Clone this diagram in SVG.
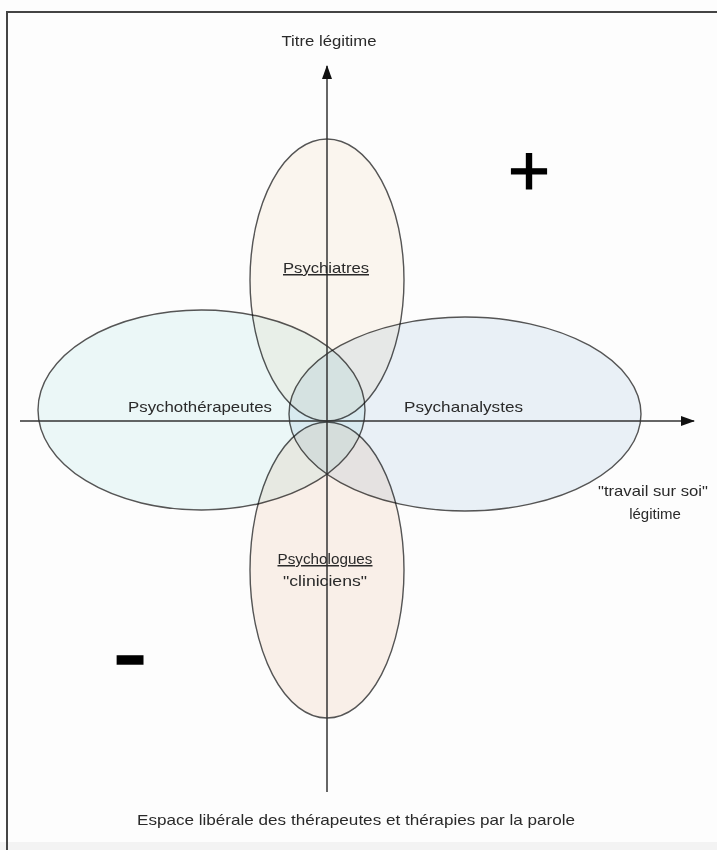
<svg xmlns="http://www.w3.org/2000/svg" width="717" height="850" viewBox="0 0 717 850">
<style>
.lbl{font-family:"Liberation Sans",Arial,Helvetica,sans-serif;font-size:15px;fill:#2a2a2a;text-anchor:middle}
.ell{stroke:#555;stroke-width:1.4;mix-blend-mode:multiply}
.ax{stroke:#333;stroke-width:1.5;fill:none}
.sign{font-family:"Liberation Sans",Arial,Helvetica,sans-serif;fill:#000;stroke:#000;text-anchor:middle}
</style>
<defs>
<marker id="arr" viewBox="0 0 14 10" refX="13" refY="5" markerWidth="14" markerHeight="10" markerUnits="userSpaceOnUse" orient="auto">
<path d="M0,0 L14,5 L0,10 z" fill="#111"/>
</marker>
</defs>
<rect x="0" y="0" width="717" height="850" fill="#fdfdfd"/>
<rect x="0" y="842" width="717" height="8" fill="#f3f3f3"/>
<path d="M7,850 V12 H717" fill="none" stroke="#444" stroke-width="2"/>

<g id="psychiatres">
<ellipse class="ell" cx="327" cy="280" rx="77" ry="141" fill="#fcf7f0"/>
</g>
<g id="psychologues">
<ellipse class="ell" cx="327" cy="570" rx="77" ry="148" fill="#fbf1ea"/>
</g>
<g id="psychotherapeutes">
<ellipse class="ell" cx="201.5" cy="410" rx="163.5" ry="100" fill="#edf9f9"/>
</g>
<g id="psychanalystes">
<ellipse class="ell" cx="465" cy="414" rx="176" ry="97" fill="#ebf2f8"/>
</g>

<g id="connectors">
<line class="ax" x1="327" y1="792" x2="327" y2="66" marker-end="url(#arr)"/>
<line class="ax" x1="20" y1="421" x2="694" y2="421" marker-end="url(#arr)"/>
</g>

<g id="labels">
<text class="lbl" x="329" y="46" textLength="95" lengthAdjust="spacingAndGlyphs">Titre légitime</text>
<text class="lbl" x="326" y="273" textLength="86" lengthAdjust="spacingAndGlyphs" text-decoration="underline">Psychiatres</text>
<text class="lbl" x="200" y="412" textLength="144" lengthAdjust="spacingAndGlyphs">Psychothérapeutes</text>
<text class="lbl" x="463.5" y="412" textLength="119" lengthAdjust="spacingAndGlyphs">Psychanalystes</text>
<text class="lbl" x="653" y="496" textLength="110" lengthAdjust="spacingAndGlyphs">"travail sur soi"</text>
<text class="lbl" x="655" y="519">légitime</text>
<text class="lbl" x="325" y="564" textLength="95" lengthAdjust="spacingAndGlyphs" text-decoration="underline">Psychologues</text>
<text class="lbl" x="325" y="586" textLength="84" lengthAdjust="spacingAndGlyphs">"cliniciens"</text>
<text class="lbl" x="356" y="825" textLength="438" lengthAdjust="spacingAndGlyphs">Espace libérale des thérapeutes et  thérapies par la parole</text>
<text class="sign" x="529" y="195" font-size="72" stroke-width="1.2">+</text>
<text class="sign" x="130" y="688" font-size="104" stroke-width="1.5">-</text>
</g>
</svg>
